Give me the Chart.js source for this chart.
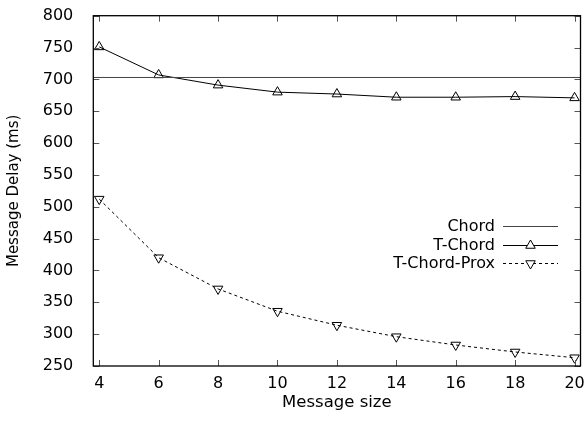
<!DOCTYPE html>
<html>
<head>
<meta charset="utf-8">
<script src="https://cdn.jsdelivr.net/npm/chart.js@4/dist/chart.umd.min.js"></script>
<style>
  html, body { margin: 0; padding: 0; background: #fff; }
  canvas { display: block; }
</style>
</head>
<body>
<canvas id="c" width="587" height="425"></canvas>
<script>
// ---- data ----
const messageSize = [4, 6, 8, 10, 12, 14, 16, 18, 20];
const chordDelay = 703;
const tChordDelay = [751, 707, 691, 680, 677, 672, 672, 673, 671];
const tChordProxDelay = [512, 420, 371, 336, 314, 296, 283, 272, 263];
const xTicks = [4, 6, 8, 10, 12, 14, 16, 18, 20];
const yTicks = [250, 300, 350, 400, 450, 500, 550, 600, 650, 700, 750, 800];
const xRange = [3.8, 20.2];
const yRange = [250, 800];
const seriesNames = ['Chord', 'T-Chord', 'T-Chord-Prox'];

const FONT = '"DejaVu Sans", "Liberation Sans", Arial, sans-serif';

// inward tick marks on all four sides + border box
const frame = {
  id: 'frame',
  afterDraw(chart) {
    const ctx = chart.ctx, a = chart.chartArea;
    const xs = chart.scales.x, ys = chart.scales.y;
    const L = 6;
    ctx.save();
    ctx.strokeStyle = '#555';
    ctx.lineWidth = 1;
    ctx.beginPath();
    xTicks.forEach(v => {
      const px = Math.round(xs.getPixelForValue(v)) + 0.5;
      ctx.moveTo(px, a.bottom); ctx.lineTo(px, a.bottom - L);
      ctx.moveTo(px, a.top); ctx.lineTo(px, a.top + L);
    });
    yTicks.forEach(v => {
      const py = Math.round(ys.getPixelForValue(v)) + 0.5;
      ctx.moveTo(a.left, py); ctx.lineTo(a.left + L, py);
      ctx.moveTo(a.right, py); ctx.lineTo(a.right - L, py);
    });
    ctx.stroke();
    ctx.strokeStyle = '#000';
    ctx.lineWidth = 1.3;
    ctx.strokeRect(a.left, a.top, a.right - a.left, a.bottom - a.top);
    ctx.restore();
  }
};

// gnuplot-style key: text right-aligned, sample line to its right
const key = {
  id: 'key',
  afterDraw(chart) {
    const ctx = chart.ctx;
    const textRight = 495, lineL = 503, lineR = 558;
    const ys0 = 226, dy = 18.5;
    ctx.save();
    ctx.font = '16px ' + FONT;
    ctx.textAlign = 'right';
    ctx.textBaseline = 'middle';
    chart.data.datasets.forEach((ds, i) => {
      const y = ys0 + i * dy;
      ctx.fillStyle = '#000';
      ctx.fillText(ds.label, textRight, y + 1);
      ctx.strokeStyle = ds.borderColor;
      ctx.lineWidth = ds.borderWidth;
      ctx.setLineDash(ds.borderDash || []);
      ctx.beginPath();
      ctx.moveTo(lineL, Math.round(y) + 0.5);
      ctx.lineTo(lineR, Math.round(y) + 0.5);
      ctx.stroke();
      ctx.setLineDash([]);
      if (ds.pointRadius > 0) {
        ctx.fillStyle = '#fff';
        ctx.strokeStyle = '#000';
        ctx.lineWidth = 1;
        Chart.helpers.drawPoint(ctx, {
          pointStyle: ds.pointStyle, radius: ds.pointRadius,
          rotation: ds.pointRotation || 0, borderWidth: 1
        }, (lineL + lineR) / 2, Math.round(y) + 0.5);
      }
    });
    ctx.restore();
  }
};

new Chart(document.getElementById('c'), {
  type: 'line',
  data: {
    datasets: [
      {
        label: seriesNames[0],
        data: xRange.map(x => ({ x, y: chordDelay })),
        borderColor: '#444', borderWidth: 1, pointRadius: 0, fill: false
      },
      {
        label: seriesNames[1],
        data: messageSize.map((x, i) => ({ x, y: tChordDelay[i] })),
        borderColor: '#000', borderWidth: 1,
        pointStyle: 'triangle', pointRadius: 5.5,
        pointBackgroundColor: 'rgba(255,255,255,0)', pointBorderColor: '#000', pointBorderWidth: 1,
        fill: false
      },
      {
        label: seriesNames[2],
        data: messageSize.map((x, i) => ({ x, y: tChordProxDelay[i] })),
        borderColor: '#000', borderWidth: 1, borderDash: [3, 3],
        pointStyle: 'triangle', pointRotation: 180, pointRadius: 5.5,
        pointBackgroundColor: 'rgba(255,255,255,0)', pointBorderColor: '#000', pointBorderWidth: 1,
        fill: false
      }
    ]
  },
  options: {
    responsive: false,
    animation: false,
    devicePixelRatio: 1,
    layout: { padding: { top: 15.7, right: 6, left: 0, bottom: 0 } },
    plugins: { legend: { display: false }, tooltip: { enabled: false } },
    elements: { line: { tension: 0 } },
    scales: {
      x: {
        type: 'linear',
        min: xRange[0], max: xRange[1],
        afterBuildTicks: s => { s.ticks = xTicks.map(v => ({ value: v })); },
        afterFit: s => { s.height = 59; s.paddingLeft = 0; s.paddingRight = 0; },
        grid: { display: false },
        border: { display: false },
        ticks: { color: '#000', font: { family: FONT, size: 16 }, padding: 0, maxRotation: 0 },
        title: { display: true, text: 'Message size', color: '#000', font: { family: FONT, size: 16.5 }, padding: { top: 0, bottom: 12 } }
      },
      y: {
        type: 'linear',
        min: yRange[0], max: yRange[1],
        afterBuildTicks: s => { s.ticks = yTicks.map(v => ({ value: v })); },
        afterFit: s => { s.width = 93.3; s.paddingTop = 0; s.paddingBottom = 0; },
        grid: { display: false },
        border: { display: false },
        ticks: { color: '#000', font: { family: FONT, size: 16 }, padding: 12 },
        title: { display: true, text: 'Message Delay (ms)', color: '#000', font: { family: FONT, size: 15 }, padding: { top: 5, bottom: 0 } }
      }
    }
  },
  plugins: [frame, key]
});
</script>
</body>
</html>
